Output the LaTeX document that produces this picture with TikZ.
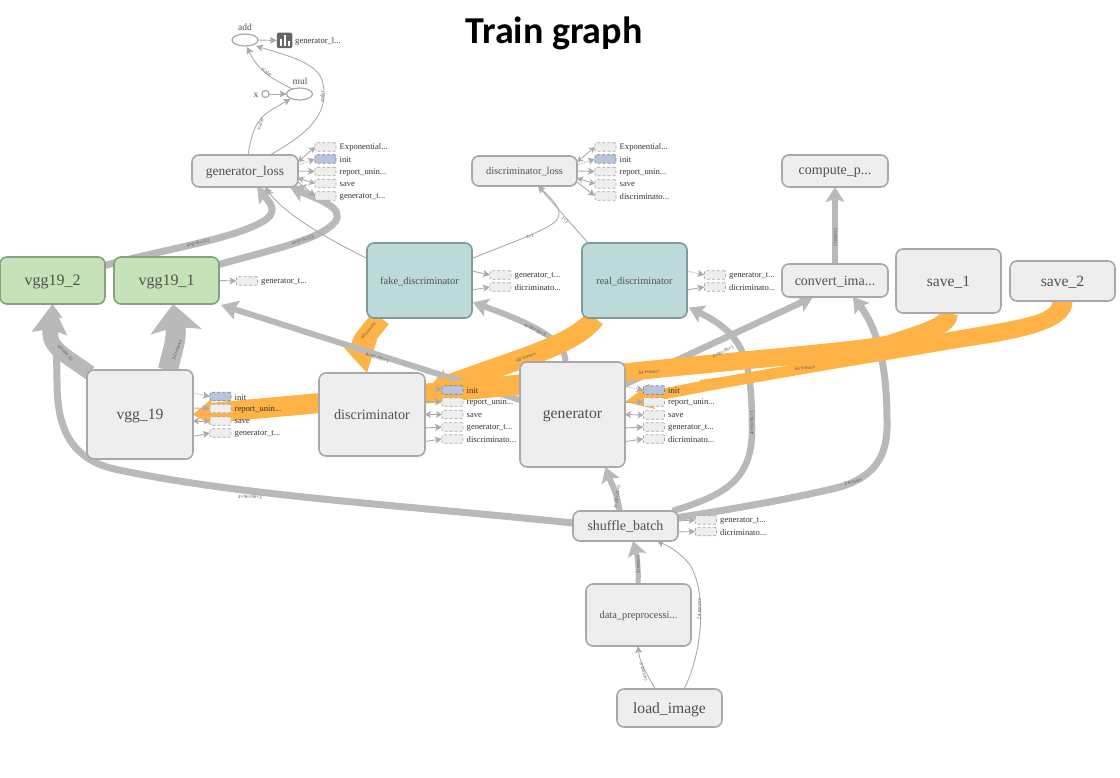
\documentclass[tikz,border=0pt]{standalone}
\usepackage{fontspec}
\setmainfont{Liberation Serif}
\newfontfamily\titlefont{Carlito}
\usetikzlibrary{arrows.meta,shapes.geometric}
\pgfdeclarelayer{bg}
\pgfsetlayers{bg,main}
\definecolor{edgegray}{HTML}{B9B9B9}
\definecolor{thingray}{HTML}{ABABAB}
\definecolor{boxfill}{HTML}{EEEEEE}
\definecolor{boxline}{HTML}{A8A8A8}
\definecolor{greenfill}{HTML}{C6E2B8}
\definecolor{greenline}{HTML}{88A080}
\definecolor{tealfill}{HTML}{BDDADA}
\definecolor{tealline}{HTML}{7F9A9A}
\definecolor{bandorange}{HTML}{FFB347}
\definecolor{initfill}{HTML}{B7C4DF}
\definecolor{txt}{HTML}{505050}
\newcommand{\fs}[1]{\fontsize{#1}{#1}\selectfont}
\newcommand{\auxitem}[4]{%
  \node[#4] (#1) at (#2) {};
  \node[auxtxt] (#1t) at ([shift={(3.5,0.8)}]#1.east) {#3};}
\tikzset{
  box/.style={draw=boxline,fill=boxfill,rounded corners=7pt,line width=1.6pt,inner sep=0pt,outer sep=0pt,text=txt,text depth=0pt},
  vggbox/.style={box,draw=greenline,fill=greenfill},
  discbox/.style={box,draw=tealline,fill=tealfill},
  auxbox/.style={draw=boxline,fill=boxfill,densely dashed,line width=.6pt,rounded corners=1pt,minimum width=21pt,minimum height=8.5pt,inner sep=0pt,outer sep=0pt},
  auxinit/.style={auxbox,fill=initfill,draw=gray},
  auxtxt/.style={anchor=west,inner sep=0pt,text=black!80,font=\fs{8.6}},
  opnode/.style={ellipse,draw=boxline,line width=1.2pt,fill=white,minimum width=26pt,minimum height=12pt,inner sep=0pt,outer sep=0pt},
  elabel/.style={inner sep=0pt,text=black!65,font=\fs{5}},
  thinedge/.style={draw=thingray,line width=.9pt,-{Stealth[length=7pt,width=7pt,inset=1.5pt,line width=0pt]}},
  auxedge/.style={thinedge},
  auxboth/.style={draw=thingray,line width=.9pt,{Stealth[length=6pt,width=7pt,inset=1.5pt,line width=0pt]}-{Stealth[length=6pt,width=7pt,inset=1.5pt,line width=0pt]}},
  auxdot/.style={thinedge,densely dotted},
  thickedge/.style={draw=edgegray,line width=#1,-{Stealth[length=15pt,width=19pt,inset=3pt,line width=0pt]}},
  bandedge/.style={draw=bandorange,line width=#1,-{Stealth[length=26pt,width=32pt,inset=4pt,line width=0pt]}}
}
\begin{document}
\begin{tikzpicture}[x=1pt,y=-1pt]
\useasboundingbox (0,0) rectangle (1120,778);
\node[inner sep=0pt,font=\titlefont\bfseries\fs{38}] (title) at (554,33) {Train graph};

% main nodes
\node[box,minimum width=106pt,minimum height=32pt,font=\fs{13.4}] (gl) at (245,171) {generator\_loss};
\node[box,minimum width=105pt,minimum height=30pt,font=\fs{10.4}] (dl) at (524.5,171) {discriminator\_loss};
\node[box,minimum width=106pt,minimum height=32pt,font=\fs{14}] (cp) at (835,171) {compute\_p...};
\node[vggbox,minimum width=105pt,minimum height=47pt,font=\fs{16}] (v2) at (52.5,280.5) {vgg19\_2};
\node[vggbox,minimum width=105pt,minimum height=47pt,font=\fs{16}] (v1) at (166.5,280.5) {vgg19\_1};
\node[discbox,minimum width=105pt,minimum height=75pt,font=\fs{10.4}] (fd) at (419.5,280.5) {fake\_discriminator};
\node[discbox,minimum width=105pt,minimum height=75pt,font=\fs{10.4}] (rd) at (634.5,280.5) {real\_discriminator};
\node[box,minimum width=106pt,minimum height=33pt,font=\fs{14}] (ci) at (835,280.5) {convert\_ima...};
\node[box,minimum width=105pt,minimum height=64pt,font=\fs{15.6}] (s1) at (948.5,281) {save\_1};
\node[box,minimum width=105pt,minimum height=40pt,font=\fs{15.6}] (s2) at (1062.5,281) {save\_2};
\node[box,minimum width=106pt,minimum height=89pt,font=\fs{15.6}] (vg) at (140,414.5) {vgg\_19};
\node[box,minimum width=106pt,minimum height=83pt,font=\fs{14.2}] (di) at (372,414.5) {discriminator};
\node[box,minimum width=105pt,minimum height=105pt,font=\fs{15.7}] (ge) at (572.5,414.5) {generator};
\node[box,minimum width=105pt,minimum height=30pt,font=\fs{14}] (sb) at (625.5,526) {shuffle\_batch};
\node[box,minimum width=105pt,minimum height=62pt,font=\fs{10.4}] (dp) at (638.5,615) {data\_preprocessi...};
\node[box,minimum width=105pt,minimum height=38pt,font=\fs{15.6}] (li) at (669.5,708) {load\_image};

% top operators
\node[opnode] (add) at (245,40) {};
\node[opnode] (mul) at (299.5,94) {};
\node[draw=boxline,line width=1.2pt,circle,fill=white,minimum size=7pt,inner sep=0pt,outer sep=0pt] (xc) at (265.5,94) {};
\node[inner sep=0pt,text=txt,font=\fs{9.5}] (addt) at (245,27) {add};
\node[inner sep=0pt,text=txt,font=\fs{9.5}] (mult) at (300,81) {mul};
\node[inner sep=0pt,text=txt,font=\fs{9.5}] (xt) at (256,95) {x};
\node[fill=black!60,rounded corners=1.5pt,minimum size=15.5pt,inner sep=0pt,outer sep=0pt] (sm) at (284.5,40.5) {};
\fill[white] (279.5,39) rectangle (281.5,46);
\fill[white] (283.5,35) rectangle (285.5,46);
\fill[white] (287.5,41) rectangle (289.5,46);
\node[auxtxt] (smt) at (295,41) {generator\_l...};

% aux items
\auxitem{a1}{325.5,147}{Exponential...}{auxbox}
\auxitem{a2}{325.5,159}{init}{auxinit}
\auxitem{a3}{325.5,171.5}{report\_unin...}{auxbox}
\auxitem{a4}{325.5,183.5}{save}{auxbox}
\auxitem{a5}{325.5,196}{generator\_t...}{auxbox}
\auxitem{b1}{605.5,147}{Exponential...}{auxbox}
\auxitem{b2}{605.5,159}{init}{auxinit}
\auxitem{b3}{605.5,171.5}{report\_unin...}{auxbox}
\auxitem{b4}{605.5,184}{save}{auxbox}
\auxitem{b5}{605.5,196}{discriminato...}{auxbox}
\auxitem{c1}{247,281}{generator\_t...}{auxbox}
\auxitem{d1}{500.5,275}{generator\_t...}{auxbox}
\auxitem{d2}{500.5,287}{dicriminato...}{auxbox}
\auxitem{e1}{715,275}{generator\_t...}{auxbox}
\auxitem{e2}{715,287}{dicriminato...}{auxbox}
\auxitem{f1}{220.5,396.5}{init}{auxinit}
\auxitem{f2}{220.5,408.5}{report\_unin...}{auxbox}
\auxitem{f3}{220.5,421}{save}{auxbox}
\auxitem{f4}{220.5,433}{generator\_t...}{auxbox}
\auxitem{g1}{452.5,390}{init}{auxinit}
\auxitem{g2}{452.5,402}{report\_unin...}{auxbox}
\auxitem{g3}{452.5,414.5}{save}{auxbox}
\auxitem{g4}{452.5,427}{generator\_t...}{auxbox}
\auxitem{g5}{452.5,439}{discriminato...}{auxbox}
\auxitem{h1}{654,390}{init}{auxinit}
\auxitem{h2}{654,402}{report\_unin...}{auxbox}
\auxitem{h3}{654,415}{save}{auxbox}
\auxitem{h4}{654,427}{generator\_t...}{auxbox}
\auxitem{h5}{654,439}{dicriminato...}{auxbox}
\auxitem{i1}{706,520}{generator\_t...}{auxbox}
\auxitem{i2}{706,531.5}{dicriminato...}{auxbox}

% edge labels
\node[elabel,rotate=15] (l1) at (198,243) {4×6×6×512};
\node[elabel,rotate=20] (l2) at (303,240) {4×6×6×512};
\node[elabel,rotate=135] (l3) at (65,353) {32 tensors};
\node[elabel,rotate=70] (l4) at (177,350) {32 tensors};
\node[elabel,rotate=-18] (l5) at (377,358) {4×96×96×3};
\node[elabel,rotate=-25] (l6) at (535,330) {4×96×96×3};
\node[elabel,rotate=28] (l7) at (723,352) {4×96×96×3};
\node[elabel,rotate=90] (l8) at (752,423) {4×96×96×3};
\node[elabel,rotate=15] (l9) at (853,482) {2 tensors};
\node[elabel,rotate=-3] (l10) at (250,497) {4×96×96×3};
\node[elabel,rotate=80] (l11) at (617,497) {4×24×24×3};
\node[elabel,rotate=90] (l12) at (638,565) {2 tensors};
\node[elabel,rotate=-72] (l13) at (644,672) {2 tensors};
\node[elabel,rotate=90] (l14) at (699,609) {24 tensors};
\node[elabel,rotate=90] (l15) at (835,238) {2 tensors};
\node[elabel,rotate=70] (l16) at (260,124) {scalar};
\node[elabel,rotate=-40] (l17) at (267,72) {scalar};
\node[elabel,rotate=90] (l18) at (322,97) {scalar};
\node[elabel,rotate=20] (l19) at (530,236) {1×1};
\node[elabel,rotate=-45] (l20) at (565,220) {1×1};
\node[elabel,rotate=50] (l21) at (368,331) {48 tensors};
\node[elabel,rotate=20] (l22) at (526,357) {48 tensors};
\node[elabel,rotate=5] (l23) at (649,372) {64 tensors};
\node[elabel,rotate=5] (l24) at (805,368) {64 tensors};

\begin{pgfonlayer}{bg}
% gray thick edges
\draw[thickedge=7pt] ([shift={(0,-15)}]v2.east) .. controls (160,250) and (230,240) .. (262,222) .. controls (278,213) and (272,205) .. ([xshift=12pt]gl.south);
\draw[thickedge=7pt] ([shift={(0,-16)}]v1.east) .. controls (270,250) and (320,240) .. (335,222) .. controls (345,208) and (320,200) .. ([xshift=45pt]gl.south);
\draw[thickedge=6pt] ([shift={(-7,0)}]ge.north) .. controls (565,345) and (550,330) .. ([shift={(1,22)}]fd.east);
\draw[thickedge=6.5pt] ([shift={(47,0)}]sb.north) .. controls (725,495) and (752,480) .. (752,430) .. controls (752,360) and (745,335) .. ([shift={(2,27)}]rd.east);
\draw[thickedge=6.5pt] ([shift={(-22,-20)}]ge.east) -- ([shift={(-22,0)}]ci.south);
\draw[thickedge=7pt] ([shift={(-3,-8)}]sb.east) .. controls (740,508) and (800,497) .. (840,487) .. controls (880,475) and (888,450) .. (887,420) .. controls (887,360) and (875,325) .. ([xshift=18pt]ci.south);
\draw[thickedge=7pt] ([shift={(0,-3)}]sb.west) .. controls (400,505) and (230,495) .. (110,468) .. controls (65,455) and (57,420) .. (57,380) .. controls (57,350) and (54,330) .. (v2.south);
\draw[thickedge=15pt,-{Stealth[length=30pt,width=36pt,inset=5pt,line width=0pt]}] ([shift={(3,3)}]vg.north west) .. controls (65,355) and (48,348) .. (v2.south);
\draw[thickedge=20pt,-{Stealth[length=28pt,width=52pt,inset=5pt,line width=0pt]}] ([xshift=28pt]vg.north) .. controls (172,352) and (177,340) .. ([xshift=6.5pt]v1.south);
\draw[thickedge=6pt] ([xshift=-6pt]sb.north) .. controls (618,495) and (612,485) .. ([xshift=33pt]ge.south);
\draw[thickedge=5pt] ([xshift=-0.5pt]dp.north) .. controls (639,570) and (637,555) .. ([xshift=7.5pt]sb.south);
\draw[thickedge=6pt] (ci.north) -- (cp.south);
\draw[thinedge] ([xshift=-14.5pt]li.north) .. controls (648,675) and (640,665) .. ([xshift=-0.5pt]dp.south);
\draw[thinedge] ([xshift=14.5pt]li.north) .. controls (704,650) and (706,590) .. (690,565) .. controls (680,552) and (668,546) .. ([xshift=31.5pt]sb.south);
\draw[thinedge] ([shift={(0,-22)}]fd.west) .. controls (330,240) and (285,215) .. ([xshift=20pt]gl.south);
\draw[thinedge] ([shift={(6,0)}]rd.north west) -- ([xshift=13.5pt]dl.south);
\draw[thinedge] ([shift={(0,-22)}]fd.east) .. controls (510,243) and (540,233) .. (555,222) .. controls (565,212) and (555,202) .. ([xshift=13.5pt]dl.south);
\draw[thinedge] ([xshift=3pt]gl.north) .. controls (254,118) and (262,115) .. ([shift={(-9,5)}]mul.center);
\draw[thinedge] ([xshift=25pt]gl.north) .. controls (305,135) and (332,115) .. (322,80) .. controls (316,62) and (285,55) .. ([shift={(11,6)}]add.center);
\draw[thinedge] ([shift={(-7,-5)}]mul.center) .. controls (270,78) and (258,70) .. ([shift={(2,7)}]add.center);
\draw[thinedge] (xc.east) -- (mul.west);
\draw[thinedge] (add.east) -- (sm.west);

% orange bands
\draw[bandedge=20pt,-{Stealth[length=30pt,width=34pt,inset=4pt,line width=0pt]}] ([xshift=-38.5pt]fd.south) .. controls (370,332) and (360,342) .. ([xshift=-5pt]di.north);
\draw[bandedge=20pt] ([xshift=-39.5pt]rd.south) .. controls (575,345) and (520,358) .. ([shift={(0,-21)}]di.east);
\draw[thickedge=6pt,-{Stealth[length=17pt,width=20pt,inset=3pt,line width=0pt]}] ([shift={(0,-14.5)}]ge.west) -- ([shift={(2,24.5)}]v1.east);
\draw[bandedge=18pt] ([xshift=0.5pt]s1.south) .. controls (949,326) and (925,332) .. (890,344) .. controls (860,352) and (700,362) .. ([shift={(0,-20)}]di.east);
\draw[bandedge=20pt,-{Stealth[length=20pt,width=28pt,inset=2pt,line width=0pt]}] ([shift={(0,-29.5)}]ge.west) -- (vg.east);
\draw[bandedge=11pt,-{Stealth[length=28pt,width=26pt,inset=4pt,line width=0pt]}] (s2.south) .. controls (1063,318) and (1040,328) .. (960,342) .. controls (880,356) and (740,378) .. ([shift={(0,-12.5)}]ge.east);
\fill[bandorange] ([xshift=-10pt]s2.south) .. controls (1053,315) and (1020,320) .. (955,331) .. controls (880,345) and (780,370) .. (700,380) -- (700,390) .. controls (780,380) and (860,362) .. (940,350) .. controls (1020,340) and (1073,330) .. ([xshift=10pt]s2.south) -- cycle;

% aux connectors
\draw[auxboth] ([shift={(0,-9)}]gl.east) -- (a1.west);
\draw[auxdot] ([shift={(0,-6)}]gl.east) -- (a2.west);
\draw[auxedge] (gl.east) -- (a3.west);
\draw[auxboth] ([shift={(0,7)}]gl.east) -- (a4.west);
\draw[auxedge] ([shift={(0,11)}]gl.east) -- (a5.west);
\draw[auxboth] ([shift={(0,-9)}]dl.east) -- (b1.west);
\draw[auxdot] ([shift={(0,-6)}]dl.east) -- (b2.west);
\draw[auxedge] (dl.east) -- (b3.west);
\draw[auxboth] ([shift={(0,7)}]dl.east) -- (b4.west);
\draw[auxedge] ([shift={(0,11)}]dl.east) -- (b5.west);
\draw[auxedge] (v1.east) -- (c1.west);
\draw[auxedge] ([shift={(0,-9.5)}]fd.east) -- (d1.west);
\draw[auxedge] ([shift={(0,9.5)}]fd.east) -- (d2.west);
\draw[auxdot] ([shift={(0,-9.5)}]rd.east) -- (e1.west);
\draw[auxedge] ([shift={(0,9.5)}]rd.east) -- (e2.west);
\draw[auxdot] ([shift={(0,-21.5)}]vg.east) -- (f1.west);
\draw[auxedge] ([shift={(0,-6.5)}]vg.east) -- (f2.west);
\draw[auxboth] ([shift={(0,6.5)}]vg.east) -- (f3.west);
\draw[auxedge] ([shift={(0,22)}]vg.east) -- (f4.west);
\draw[auxdot] ([shift={(0,-27.5)}]di.east) -- (g1.west);
\draw[auxedge] ([shift={(0,-13)}]di.east) -- (g2.west);
\draw[auxboth] (di.east) -- (g3.west);
\draw[auxedge] ([shift={(0,13.5)}]di.east) -- (g4.west);
\draw[auxedge] ([shift={(0,27)}]di.east) -- (g5.west);
\draw[auxdot] ([shift={(0,-28)}]ge.east) -- (h1.west);
\draw[auxedge] ([shift={(0,-12)}]ge.east) -- (h2.west);
\draw[auxboth] (ge.east) -- (h3.west);
\draw[auxedge] ([shift={(0,13.5)}]ge.east) -- (h4.west);
\draw[auxedge] ([shift={(0,27)}]ge.east) -- (h5.west);
\draw[auxedge] ([shift={(0,-5)}]sb.east) -- (i1.west);
\draw[auxedge] ([shift={(0,6)}]sb.east) -- (i2.west);
\end{pgfonlayer}
\end{tikzpicture}
\end{document}
